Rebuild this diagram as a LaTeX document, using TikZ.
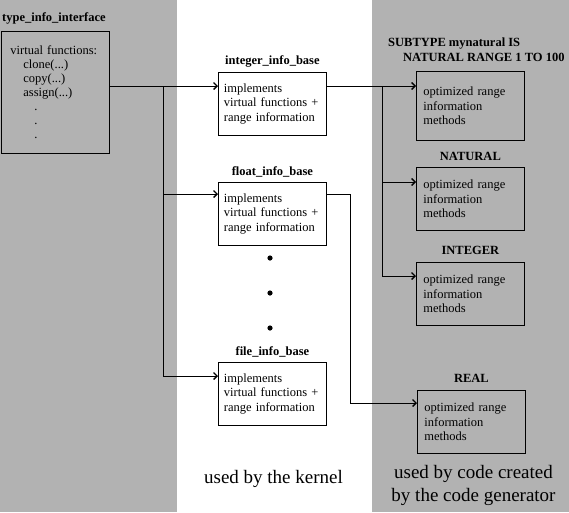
\documentclass[tikz,border=0pt]{standalone}
\usepackage{fontspec}
\setmainfont{Liberation Serif}
\usetikzlibrary{positioning, arrows.meta}
\definecolor{panelgray}{gray}{0.70}

\begin{document}
\begin{tikzpicture}
  [
   x=1pt, y=-1pt, % 以像素为单位
   font=\fontsize{12.5}{14.5}\selectfont,
   lbl/.style={font=\fontsize{12.5}{14}\selectfont\bfseries, inner sep=0pt},
   infobox/.style={draw, line width=0.8pt, anchor=north west, align=left,
                   text width=97pt, inner xsep=5.5pt, minimum height=63},
   optbox/.style={draw, line width=0.8pt, anchor=north west, align=left,
                  text width=94pt, inner xsep=7pt, minimum height=63},
   arr/.style={line width=0.8pt, -{Straight Barb[length=3.5pt,width=7pt,line width=1.3pt]}},
   wire/.style={line width=0.8pt}
  ]
  \useasboundingbox (0,0) rectangle (569,512);
  % 灰色背景
  \fill[panelgray] (0,0) rectangle (177,512);
  \fill[panelgray] (372,0) rectangle (569,512);

  % 左侧接口
  \node[draw, line width=0.8pt, anchor=north west, align=left,
        text width=90pt, inner xsep=9pt, minimum height=122,
        font=\fontsize{12.5}{14}\selectfont] (iface) at (1,31)
       {virtual functions:\\
        \hspace*{13pt}clone(...)\\
        \hspace*{13pt}copy(...)\\
        \hspace*{13pt}assign(...)\\
        \hspace*{24pt}.\\
        \hspace*{24pt}.\\
        \hspace*{24pt}.};
  \node[lbl, anchor=south west] (ifacelbl) at ([xshift=1pt,yshift=7pt]iface.north west)
       {type\_info\_interface};

  % 内核中的基类
  \node[infobox] (intbase) at (218,72)
       {implements\\virtual functions +\\range information};
  \node[infobox] (fltbase) at (218,182)
       {implements\\virtual functions +\\range information};
  \node[infobox] (filebase) at (218,362)
       {implements\\virtual functions +\\range information};
  \node[lbl, above=5pt of intbase] (intlbl) {integer\_info\_base};
  \node[lbl, above=5pt of fltbase] (fltlbl) {float\_info\_base};
  \node[lbl, above=5pt of filebase] (filelbl) {file\_info\_base};
  \foreach \y in {258,293,328}
    \fill (270,\y) circle (2.6pt);

  % 代码生成器生成的类
  \node[optbox, minimum height=69] (optsub) at (416,71)
       {optimized range\\information\\methods};
  \node[optbox] (optnat) at (416,167)
       {optimized range\\information\\methods};
  \node[optbox] (optint) at (416,262)
       {optimized range\\information\\methods};
  \node[optbox] (optreal) at (417,390)
       {optimized range\\information\\methods};
  \node[lbl, anchor=north west, align=left, font=\fontsize{12.5}{14.5}\selectfont\bfseries]
       (sublbl) at (388,38)
       {SUBTYPE mynatural IS\\\hspace*{15pt}NATURAL RANGE 1 TO 100};
  \node[lbl, above=6pt of optnat] (natlbl) {NATURAL};
  \node[lbl, above=7pt of optint] (intglbl) {INTEGER};
  \node[lbl, above=7pt of optreal] (reallbl) {REAL};

  % 连线
  \coordinate (busL) at (163,0);
  \coordinate (busR) at (382,0);
  \coordinate (busF) at (350,0);
  \coordinate (inInt) at ([yshift=-14pt]intbase.north west);
  \coordinate (inFlt) at ([yshift=-12pt]fltbase.north west);
  \coordinate (inFile) at ([yshift=-14pt]filebase.north west);
  \coordinate (outInt) at ([yshift=-14pt]intbase.north east);
  \coordinate (outFlt) at ([yshift=-12pt]fltbase.north east);
  \coordinate (inNat) at ([yshift=-15pt]optnat.north west);
  \coordinate (inOI) at ([yshift=-14pt]optint.north west);
  \coordinate (inReal) at ([yshift=-13pt]optreal.north west);

  \draw[arr] (iface.east |- inInt) -- (inInt);
  \draw[wire] (busL |- inInt) -- (busL |- inFile);
  \draw[arr] (busL |- inFlt) -- (inFlt);
  \draw[arr] (busL |- inFile) -- (inFile);

  \draw[arr] (outInt) -- (optsub.west |- outInt);
  \draw[wire] (busR |- outInt) -- (busR |- inOI);
  \draw[arr] (busR |- inNat) -- (inNat);
  \draw[arr] (busR |- inOI) -- (inOI);
  \draw[arr] (outFlt) -| (busF |- inReal) -- (inReal);

  % 底部说明
  \node[font=\fontsize{19}{23}\selectfont] (kernel) at (273.5,479) {used by the kernel};
  \node[font=\fontsize{19}{23}\selectfont, align=center] (codegen) at (473.5,485.5)
       {used by code created\\by the code generator};
\end{tikzpicture}
\end{document}
